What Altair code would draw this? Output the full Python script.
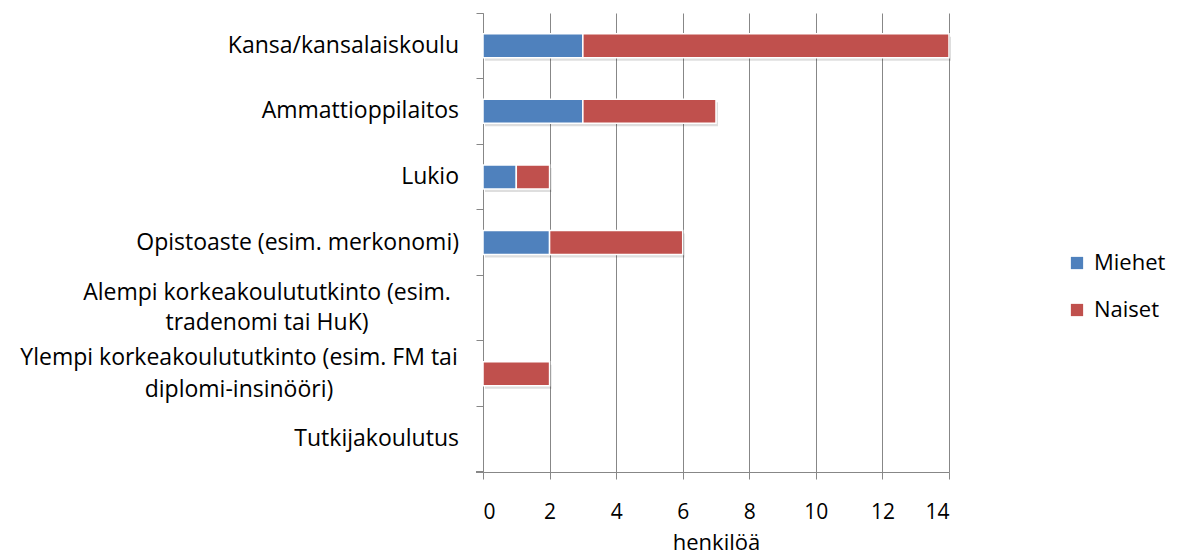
import altair as alt
import pandas as pd

categories = [
    "Kansa/kansalaiskoulu",
    "Ammattioppilaitos",
    "Lukio",
    "Opistoaste (esim. merkonomi)",
    "Alempi korkeakoulututkinto (esim.\ntradenomi tai HuK)",
    "Ylempi korkeakoulututkinto (esim. FM tai\ndiplomi-insinööri)",
    "Tutkijakoulutus",
]
series = ["Miehet", "Naiset"]
miehet = [3, 3, 1, 2, 0, 0, 0]
naiset = [11, 4, 1, 4, 0, 2, 0]
x_ticks = [0, 2, 4, 6, 8, 10, 12, 14]
colors = ["#4F81BD", "#C0504D"]

rows = []
for i, c in enumerate(categories):
    for j, (s, vals) in enumerate(zip(series, [miehet, naiset])):
        if vals[i] > 0:
            rows.append({"cat": c, "series": s, "value": vals[i], "ord": j})
df = pd.DataFrame(rows)
labels_df = pd.DataFrame({"cat": categories})

FONT = "Open Sans"
FS = 23
GRAY = "#878787"

y_enc = alt.Y(
    "cat:N",
    sort=categories,
    scale=alt.Scale(domain=categories, paddingInner=0, paddingOuter=0),
    axis=alt.Axis(labels=False, title=None, bandPosition=0, tickSize=7,
                  tickColor=GRAY, domainColor=GRAY, grid=False),
)
x_enc = alt.X(
    "value:Q",
    stack="zero",
    scale=alt.Scale(domain=[0, 14], nice=False),
    axis=alt.Axis(values=x_ticks, grid=True, gridColor=GRAY, tickSize=7,
                  tickColor=GRAY, domainColor=GRAY, labelFont=FONT,
                  labelFontSize=21, labelColor="black", labelPadding=22,
                  title="henkilöä", titleFont=FONT, titleFontSize=22,
                  titleFontWeight="normal", titleColor="black", titlePadding=10),
)

shadow = alt.Chart(df).mark_bar(size=24, color="#000000", opacity=0.13,
                                xOffset=2, yOffset=3).encode(
    x=x_enc, y=y_enc, order=alt.Order("ord:Q")
)

bars = alt.Chart(df).mark_bar(size=24, stroke="white", strokeWidth=1.5).encode(
    x=x_enc,
    y=y_enc,
    color=alt.Color(
        "series:N",
        scale=alt.Scale(domain=series, range=colors),
        legend=alt.Legend(title=None, orient="none", legendX=583, legendY=239,
                          symbolType="square", symbolSize=150,
                          symbolStrokeWidth=0, labelFont=FONT,
                          labelFontSize=22, labelColor="black",
                          rowPadding=25, labelOffset=6, padding=0),
    ),
    order=alt.Order("ord:Q"),
)

single = [categories[i] for i in (0, 1, 2, 3, 6)]
txt_single = alt.Chart(labels_df).transform_filter(
    alt.FieldOneOfPredicate(field="cat", oneOf=single)
).mark_text(align="right", baseline="middle", font=FONT, fontSize=FS,
            color="black").encode(y=y_enc, x=alt.value(-24), text="cat:N")

txt_alempi = alt.Chart(labels_df).transform_filter(
    alt.datum.cat == categories[4]
).mark_text(align="center", baseline="middle", font=FONT, fontSize=FS,
            color="black", lineBreak="\n", lineHeight=30, dy=-15).encode(
    y=y_enc, x=alt.value(-216), text="cat:N")

txt_ylempi = alt.Chart(labels_df).transform_filter(
    alt.datum.cat == categories[5]
).mark_text(align="center", baseline="middle", font=FONT, fontSize=FS,
            color="black", lineBreak="\n", lineHeight=32, dy=-16).encode(
    y=y_enc, x=alt.value(-244), text="cat:N")

bottom_tick = alt.Chart(labels_df).mark_rule(color=GRAY).encode(
    x=alt.value(-7), x2=alt.value(0), y=alt.value(459)
)

chart = alt.layer(shadow, bars, txt_single, txt_alempi, txt_ylempi, bottom_tick).properties(
    width=466,
    height=459,
    autosize=alt.AutoSizeParams(type="none"),
    padding={"left": 475, "top": 5, "right": 225, "bottom": 85},
).configure_view(stroke=None)

chart.save("out.html", embed_options={"renderer": "svg", "actions": False})
